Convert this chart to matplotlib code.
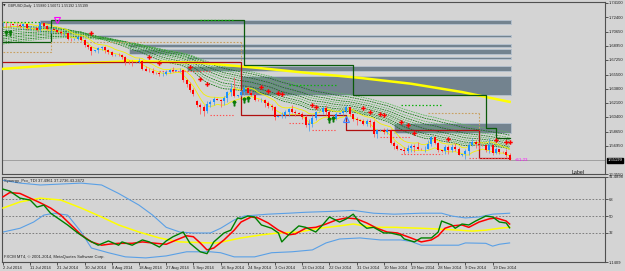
import matplotlib
matplotlib.use('Agg')
import matplotlib.pyplot as plt
import matplotlib.transforms as mtrans
import numpy as np

plt.rcParams['font.family'] = ['Liberation Sans', 'DejaVu Sans']

# ---------------- data ----------------
opens = [1.7153,1.7160,1.7156,1.7153,1.7150,1.7148,1.7132,1.7154,1.7104,1.7109,
         1.7105,1.7080,1.7165,1.7132,1.7092,1.7095,1.7088,1.7065,1.7044,1.7045,
         1.6983,1.6978,1.6980,1.6998,1.6969,1.6902,1.6878,1.6833,1.6840,1.6867,
         1.6881,1.6841,1.6821,1.6785,1.6790,1.6786,1.6765,1.6699,1.6697,1.6695,
         1.6700,1.6718,1.6617,1.6597,1.6595,1.6573,1.6570,1.6555,1.6559,1.6586,
         1.6604,1.6596,1.6600,1.6600,1.6480,1.6440,1.6360,1.6230,1.6180,1.6160,
         1.6110,1.6201,1.6222,1.6258,1.6250,1.6234,1.6266,1.6340,1.6373,1.6296,
         1.6300,1.6337,1.6393,1.6331,1.6310,1.6248,1.6240,1.6246,1.6214,1.6178,
         1.6157,1.6045,1.6050,1.6061,1.6105,1.6136,1.6105,1.6088,1.6080,1.6043,
         1.5944,1.5950,1.6032,1.6101,1.6105,1.6149,1.6096,1.6030,1.6018,1.6082,
         1.6085,1.6107,1.6160,1.6075,1.6020,1.6000,1.5995,1.5955,1.5995,1.5985,
         1.5833,1.5880,1.5885,1.5855,1.5878,1.5727,1.5686,1.5650,1.5645,1.5634,
         1.5667,1.5686,1.5678,1.5658,1.5655,1.5661,1.5721,1.5795,1.5730,1.5639,
         1.5630,1.5677,1.5641,1.5680,1.5658,1.5583,1.5590,1.5635,1.5706,1.5734,
         1.5716,1.5706,1.5700,1.5638,1.5706,1.5603,1.5650,1.5622,1.5615,1.5588]
highs = [1.7180,1.7180,1.7170,1.7160,1.7170,1.7165,1.7165,1.7160,1.7130,1.7115,
         1.7120,1.7191,1.7180,1.7145,1.7110,1.7100,1.7100,1.7085,1.7070,1.7050,
         1.6995,1.6985,1.7010,1.7010,1.6980,1.6920,1.6890,1.6845,1.6880,1.6895,
         1.6890,1.6860,1.6835,1.6795,1.6810,1.6795,1.6775,1.6730,1.6720,1.6705,
         1.6745,1.6725,1.6650,1.6625,1.6630,1.6580,1.6585,1.6575,1.6600,1.6620,
         1.6635,1.6605,1.6625,1.6610,1.6500,1.6455,1.6390,1.6240,1.6210,1.6190,
         1.6230,1.6250,1.6275,1.6265,1.6260,1.6290,1.6350,1.6450,1.6525,1.6310,
         1.6360,1.6410,1.6415,1.6370,1.6330,1.6255,1.6270,1.6260,1.6230,1.6200,
         1.6170,1.6055,1.6100,1.6130,1.6150,1.6180,1.6130,1.6095,1.6100,1.6070,
         1.6010,1.6060,1.6115,1.6110,1.6170,1.6185,1.6120,1.6065,1.6100,1.6090,
         1.6130,1.6185,1.6165,1.6080,1.6035,1.6010,1.6010,1.6010,1.6020,1.6000,
         1.5890,1.5890,1.5910,1.5905,1.5890,1.5750,1.5720,1.5660,1.5675,1.5700,
         1.5710,1.5720,1.5740,1.5665,1.5695,1.5760,1.5810,1.5815,1.5745,1.5645,
         1.5700,1.5700,1.5710,1.5725,1.5675,1.5595,1.5660,1.5740,1.5785,1.5760,
         1.5745,1.5715,1.5720,1.5785,1.5720,1.5680,1.5660,1.5630,1.5650,1.56071]
lows = [1.7120,1.7125,1.7125,1.7145,1.7120,1.7110,1.7100,1.7090,1.7085,1.7100,
        1.7070,1.7060,1.7110,1.7080,1.7055,1.7085,1.7050,1.7030,1.7010,1.6960,
        1.6950,1.6970,1.6965,1.6955,1.6885,1.6860,1.6790,1.6825,1.6815,1.6840,
        1.6810,1.6800,1.6770,1.6778,1.6770,1.6740,1.6660,1.6680,1.6650,1.6688,
        1.6690,1.6600,1.6590,1.6580,1.6555,1.6560,1.6535,1.6535,1.6545,1.6570,
        1.6585,1.6590,1.6580,1.6460,1.6400,1.6340,1.6290,1.6160,1.6080,1.6052,
        1.6090,1.6160,1.6190,1.6240,1.6160,1.6180,1.6220,1.6290,1.6275,1.6285,
        1.6290,1.6310,1.6315,1.6290,1.6230,1.6235,1.6215,1.6160,1.6150,1.6120,
        1.6007,1.6035,1.6030,1.6030,1.6050,1.6090,1.6050,1.6075,1.6020,1.5920,
        1.5876,1.5920,1.6000,1.6095,1.6080,1.6070,1.6000,1.5990,1.6000,1.6075,
        1.6060,1.6090,1.6050,1.5990,1.5945,1.5990,1.5945,1.5935,1.5925,1.5800,
        1.5790,1.5870,1.5840,1.5835,1.5710,1.5660,1.5640,1.5640,1.5590,1.5610,
        1.5620,1.5620,1.5640,1.5645,1.5620,1.5650,1.5690,1.5710,1.5620,1.5625,
        1.5590,1.5600,1.5620,1.5630,1.5580,1.5575,1.5540,1.5585,1.5690,1.5670,
        1.5660,1.5695,1.5620,1.5610,1.5580,1.5595,1.5590,1.5610,1.5560,1.55192]
closes = [1.7160,1.7156,1.7153,1.7150,1.7148,1.7132,1.7154,1.7104,1.7109,1.7105,
          1.7080,1.7165,1.7132,1.7092,1.7095,1.7088,1.7065,1.7044,1.7045,1.6983,
          1.6978,1.6980,1.6998,1.6969,1.6902,1.6878,1.6833,1.6840,1.6867,1.6881,
          1.6841,1.6821,1.6785,1.6790,1.6786,1.6765,1.6699,1.6697,1.6695,1.6700,
          1.6718,1.6617,1.6597,1.6595,1.6573,1.6570,1.6555,1.6559,1.6586,1.6604,
          1.6596,1.6600,1.6600,1.6480,1.6440,1.6360,1.6318,1.6180,1.6160,1.6110,
          1.6201,1.6222,1.6258,1.6250,1.6234,1.6266,1.6340,1.6373,1.6296,1.6300,
          1.6337,1.6393,1.6331,1.6310,1.6248,1.6240,1.6246,1.6214,1.6178,1.6157,
          1.6045,1.6050,1.6061,1.6105,1.6136,1.6105,1.6088,1.6080,1.6043,1.5944,
          1.5950,1.6032,1.6101,1.6105,1.6149,1.6096,1.6030,1.6018,1.6082,1.6085,
          1.6107,1.6160,1.6075,1.6020,1.6000,1.5995,1.5955,1.5995,1.5985,1.5833,
          1.5880,1.5885,1.5855,1.5878,1.5727,1.5686,1.5650,1.5645,1.5634,1.5667,
          1.5686,1.5678,1.5658,1.5655,1.5661,1.5721,1.5795,1.5730,1.5639,1.5630,
          1.5677,1.5641,1.5680,1.5658,1.5583,1.5590,1.5635,1.5706,1.5734,1.5716,
          1.5706,1.5700,1.5638,1.5706,1.5603,1.5650,1.5622,1.5615,1.5588,1.55199]

date_label_bars = [0, 8, 16, 24, 32, 40, 48, 56, 64, 72, 80, 88, 96, 104, 112, 120, 128, 136, 144]
date_labels = ["2 Jul 2014", "11 Jul 2014", "21 Jul 2014", "30 Jul 2014", "8 Aug 2014",
               "18 Aug 2014", "27 Aug 2014", "5 Sep 2014", "16 Sep 2014", "24 Sep 2014",
               "3 Oct 2014", "13 Oct 2014", "22 Oct 2014", "31 Oct 2014", "10 Nov 2014",
               "19 Nov 2014", "28 Nov 2014", "9 Dec 2014", "19 Dec 2014"]

price_ticks = [1.74100, 1.72400, 1.70650, 1.68950, 1.67250, 1.65500, 1.63800,
               1.62100, 1.60400, 1.58650, 1.56950, 1.53550]
price_tick_labels = ["1.74100", "1.72400", "1.70650", "1.68950", "1.67250", "1.65500",
                     "1.63800", "1.62100", "1.60400", "1.58650", "1.56950", "1.53550"]
last_price = 1.55199

# supply zones (start bar, top price, bottom price)
zone_start = [11, 28, 37, 37, 54, 54, 70, 115]
zone_top = [1.7206, 1.7026, 1.6918, 1.6858, 1.6762, 1.6654, 1.6534, 1.5970]
zone_bot = [1.7158, 1.7002, 1.6882, 1.6798, 1.6738, 1.6594, 1.6306, 1.5850]

# long moving average (thick yellow)
ma_bars = [0, 20, 38, 58, 75, 90, 105, 120, 135, 149]
ma_vals = [1.6618, 1.6680, 1.6712, 1.6692, 1.6630, 1.6568, 1.6510, 1.6440, 1.6340, 1.6222]

# ribbon periods and starting values
ribbon_periods = [22, 26, 30, 35, 40, 45, 50, 56, 63, 70]
ribbon_seeds = [1.7110, 1.7085, 1.7060, 1.7035, 1.7010, 1.6990, 1.6970, 1.6950,
                1.6930, 1.6910]

# step lines
res_bars = [0, 14, 71, 103, 142, 145, 149]
res_levels = [1.6942, 1.7206, 1.6666, 1.6306, 1.5910, 1.5790]
sup_bars = [0, 70, 101, 140, 149]
sup_levels = [1.6702, 1.6066, 1.5886, 1.5550]
tan_bars = [0, 14, 70]
tan_levels = [1.6826, 1.6946]
tan2_bars = [125, 140]
tan2_levels = [1.6090]

green_dot_x0 = [0, 58, 84, 117]
green_dot_x1 = [11, 68, 98, 129]
green_dot_y = [1.7182, 1.7206, 1.6426, 1.6186]
red_dot_x0 = [46, 61, 84, 91, 111, 117, 137]
red_dot_x1 = [61, 68, 90, 98, 120, 129, 149]
red_dot_y = [1.6594, 1.6066, 1.5970, 1.5886, 1.5802, 1.5598, 1.5550]

cross_bars = [26, 43, 46, 55, 58, 60, 76, 78, 81, 82, 91, 92, 106, 108, 111, 112,
              117, 119, 121, 131, 145, 148, 149]
cross_vals = [1.7050, 1.6762, 1.6690, 1.6642, 1.6500, 1.6440, 1.6402, 1.6354, 1.6330,
              1.6318, 1.6186, 1.6162, 1.6150, 1.6102, 1.6078, 1.6066, 1.5982, 1.5946,
              1.5850, 1.5778, 1.5766, 1.5742, 1.5742]
arrow_bars = [1, 2, 68, 71, 72, 96, 97]
arrow_vals = [1.7050, 1.7050, 1.6210, 1.6246, 1.6258, 1.6006, 1.6018]

# TDI sub window
g_bars = [0,2,5,8,10,12,14,16,19,22,25,28,31,34,35,38,41,43,46,48,50,53,55,58,60,62,65,67,
          69,70,72,74,76,79,81,82,84,87,89,92,94,96,99,101,103,105,107,109,112,114,117,118,
          121,123,126,128,129,132,133,135,137,139,142,144,146,148,149]
g_vals = [78.6,76.5,69,67,59.5,61.6,53,48,40.5,32,24.6,19,23.5,19,22.5,19,24.6,22.5,17,23.5,
          28,33,21,12,10,22.5,32,35,48,47,50,49,40.5,37,32,22.5,30,39.5,38,33,40.5,49,43.6,47,
          52,42.6,37,38,32,32,29.5,25.6,22.5,26.7,26.7,33,44.7,40.5,37,41.5,40.5,44.7,50,49,
          43.6,42.6,37.5]
r_bars = [0,2,5,8,11,14,17,20,23,26,29,31,34,38,41,45,48,51,54,56,58,60,62,65,68,70,73,75,78,
          81,84,86,89,92,95,98,101,104,107,110,113,116,120,123,126,128,130,132,135,137,140,143,
          145,148,149]
r_vals = [70.4,75,74,69,64,58.5,51,40.5,30,22.5,19,20,21,21,22.5,21,20,24.6,29,28,21.4,14,16,
          24.6,35,43.6,49,48,42.6,35,30,31,37,38,41.5,45.8,48,47,42.6,37,33,32,26.7,22.5,24.6,
          29,37,39.5,40.5,38,43.6,47,48,44.7,41.5]
y_bars = [0,5,11,17,23,29,34,40,46,52,61,63,70,76,81,87,93,99,103,109,115,123,129,134,138,142,146,149]
y_vals = [58.5,65,69,67,58.5,49,40.5,33,26.7,22.5,21.4,21.4,26.7,30,32,33,37,39.5,41.5,38,38,
          37,36,35,34,35,37,38]
ub_bars = [0,5,11,17,23,29,34,40,44,48,52,56,61,64,68,71,78,84,89,97,103,109,115,123,129,132,136,140,144,149]
ub_vals = [88,85,83,84,85,83,74,61.6,51,38,33,32,32,37,45.8,50,52,53,54,55,56,53,52,53,53,50,48,49,52,53]
lb_bars = [0,5,9,12,15,19,23,26,31,36,42,48,54,61,64,68,74,79,85,91,95,99,105,111,117,120,123,134,136,142,144,146,149]
lb_vals = [33,37,43.6,51,53,51,33,16,11,6.6,5.5,7.6,12,12,11,6.6,6.6,11,12,14,21.4,25.6,26.7,
           24.6,24.6,23,19,19,21.4,21,18,20,21.4]
tdi_levels = [68, 50, 32]
tdi_ticks = [91.4898, 68, 50, 32, 1.1409]
tdi_tick_labels = ["91.4898", "68", "50", "32", "1.1409"]

# ---------------- layout ----------------
W, H = 625, 271
BG = '#d4d4d4'
fig = plt.figure(figsize=(W / 100, H / 100), dpi=100)
fig.patch.set_facecolor(BG)


def box(x0, y0, x1, y1):
    return [x0 / W, 1 - y1 / H, (x1 - x0) / W, (y1 - y0) / H]


ax = fig.add_axes(box(2, 2, 605, 174))
sub = fig.add_axes(box(2, 177, 605, 262))
spacing = 3.4
xl = ((2 - 3) / spacing, (605 - 3) / spacing)
for a in (ax, sub):
    a.set_facecolor(BG)
    a.set_xlim(*xl)
    for s in a.spines.values():
        s.set_color('#505050')
        s.set_linewidth(0.8)

ax.set_ylim(1.7422 - 172 * 0.0012, 1.7422)
n = len(closes)
xs = np.arange(n)

# supply zones
for s0, t, b in zip(zone_start, zone_top, zone_bot):
    ax.fill_between([s0, n - 0.6], b, t, facecolor='#73838f', edgecolor='#b4c0cc',
                    linewidth=0.7, zorder=1)

# thick yellow long MA
ax.plot(ma_bars, ma_vals, color='#ffff00', lw=1.8, zorder=3)

# ribbon of EMAs
for i, (p, seed) in enumerate(zip(ribbon_periods, ribbon_seeds)):
    k = 2.0 / (p + 1)
    e = seed
    vals = []
    for c in closes:
        e = e + (c - e) * k
        vals.append(e)
    col = '#167a16' if i % 2 == 0 else '#5cb85c'
    ax.plot(xs, vals, color=col, lw=0.6, ls=(0, (2, 1)), zorder=2)

# thin yellow envelope lines
for src in (highs, lows):
    k = 2.0 / 7
    e = src[0]
    vals = []
    for v in src:
        e = e + (v - e) * k
        vals.append(e)
    ax.plot(xs, vals, color='#f4f000', lw=0.6, zorder=3)

# step lines
ax.step(res_bars, res_levels + [res_levels[-1]], where='post', color='#0a5a0a', lw=0.9, zorder=4)
ax.step(sup_bars, sup_levels + [sup_levels[-1]], where='post', color='#b01010', lw=0.9, zorder=4)
ax.step(tan_bars, tan_levels + [tan_levels[-1]], where='post', color='#c8a060', lw=0.8,
        ls=(0, (1.5, 1.5)), zorder=4)
ax.plot([tan_bars[-1], tan_bars[-1]], [tan_levels[-1], sup_levels[0]], color='#c8a060', lw=0.8,
        ls=(0, (1.5, 1.5)), zorder=4)
ax.plot(tan2_bars, tan2_levels * 2, color='#c8a060', lw=0.8, ls=(0, (1.5, 1.5)), zorder=4)
ax.plot([tan2_bars[-1], tan2_bars[-1]], [tan2_levels[0], sup_levels[2]], color='#c8a060', lw=0.8,
        ls=(0, (1.5, 1.5)), zorder=4)
for a0, a1, yv in zip(green_dot_x0, green_dot_x1, green_dot_y):
    ax.plot([a0, a1], [yv, yv], color='#10b010', lw=0.9, ls=(0, (1.2, 1.6)), zorder=4)
for a0, a1, yv in zip(red_dot_x0, red_dot_x1, red_dot_y):
    ax.plot([a0, a1], [yv, yv], color='#ff5050', lw=0.8, ls=(0, (1.2, 1.6)), zorder=4)

# bid line
ax.axhline(last_price, color='#a0a0a0', lw=0.7, zorder=2)

# candles
o = np.array(opens); h = np.array(highs); l = np.array(lows); c = np.array(closes)
up = c >= o
cols = np.where(up, '#1e90ff', '#ff0000')
wick_cols = np.where(up, '#5aa0e6', '#ff6060')
ax.vlines(xs, l, h, colors=wick_cols, lw=0.6, zorder=5)
body_b = np.minimum(o, c)
body_h = np.maximum(np.abs(c - o), 0.00025)
ax.bar(xs, body_h, bottom=body_b, width=0.62, color=cols, linewidth=0, zorder=6)

# markers
ax.plot(cross_bars, cross_vals, ls='none', marker='P', ms=3.2, color='#ff0000',
        markeredgewidth=0, zorder=7)
ax.plot(arrow_bars, arrow_vals, ls='none', marker=r'$\uparrow$', ms=3.5, color='#0a7a0a', zorder=7)
ax.plot([16], [1.7200], ls='none', marker='v', ms=4, mfc='none', mec='#ff00ff', mew=0.8, zorder=7)
ax.plot([101], [1.6010], ls='none', marker='^', ms=4, mfc='none', mec='#4080ff', mew=0.8, zorder=7)
ax.text(150.5, 1.5525, "<51:23", color='#ff00ff', fontsize=3.2, va='center', ha='left', zorder=8)

# axis ticks (main)
ax.set_xticks([])
ax.yaxis.tick_right()
ax.set_yticks(price_ticks)
ax.set_yticklabels(price_tick_labels)
ax.tick_params(axis='y', direction='out', length=2, width=0.5, pad=1, labelsize=3.0,
               colors='#202020')
trans = mtrans.blended_transform_factory(ax.transAxes, ax.transData)
ax.text(1.004, last_price, "1.55199", transform=trans, fontsize=3.0, color='white',
        va='center', ha='left', bbox=dict(boxstyle='square,pad=0.15', fc='black', ec='black'),
        clip_on=False, zorder=9)
ax.text(0.944, 1.5375, "Label", transform=trans, fontsize=3.8, color='#101010', va='center')

# ---------------- TDI sub window ----------------
sub.set_ylim(1.1409, 91.4898)
for lv in tdi_levels:
    sub.axhline(lv, color='#707070', lw=0.6, ls=(0, (2, 2)), zorder=1)
sub.plot(ub_bars, ub_vals, color='#5aa0e6', lw=0.8, zorder=2)
sub.plot(lb_bars, lb_vals, color='#5aa0e6', lw=0.8, zorder=2)
sub.plot(y_bars, y_vals, color='#ffff00', lw=1.1, zorder=3)
sub.plot(r_bars, r_vals, color='#ff0000', lw=1.1, zorder=4)
sub.plot(g_bars, g_vals, color='#008000', lw=1.0, zorder=5)
sub.yaxis.tick_right()
sub.set_yticks(tdi_ticks)
sub.set_yticklabels(tdi_tick_labels)
sub.tick_params(axis='y', direction='out', length=2, width=0.5, pad=1, labelsize=3.0,
                colors='#202020')
sub.set_xticks(date_label_bars)
sub.set_xticklabels(date_labels)
sub.tick_params(axis='x', direction='out', length=2, width=0.5, pad=1, labelsize=3.0,
                colors='#202020')
for t in sub.get_xticklabels():
    t.set_ha('left')

fig.text(3 / W, 1 - 6 / H, "\u25bc", fontsize=2.4, color='#202020', va='center',
         family=['DejaVu Sans'])
fig.text(8 / W, 1 - 6 / H, "GBPUSD,Daily  1.55880 1.56071 1.55192 1.55199", fontsize=2.5,
         color='#202020', va='center')
fig.text(4 / W, 1 - 181 / H, "Synergy_Pro_TDI 37.4961 37.2736 43.2472", fontsize=3.0,
         color='#202020', va='center')
fig.text(4 / W, 1 - 257 / H, "FXCM MT4, \u00a9 2001-2014, MetaQuotes Software Corp.",
         fontsize=3.0, color='#202020', va='center')

fig.savefig('out.png', dpi=100, facecolor=BG)
